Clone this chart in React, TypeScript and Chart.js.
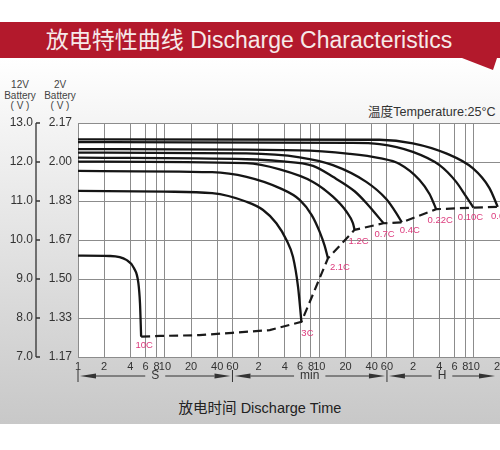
import React, { useEffect, useRef } from "react";
import { Chart, registerables } from "chart.js";

Chart.register(...registerables);

// ---------- data (time in seconds, voltage on the 12 V scale) ----------
const rateLabels = ["0.05C", "0.10C", "0.22C", "0.4C", "0.7C", "1.2C", "2.1C", "3C", "10C"];

const t005 = [1, 2958, 7145, 17290, 34960, 54450, 67780];
const v005 = [12.58, 12.57, 12.48, 12.22, 11.84, 11.33, 10.85];

const t010 = [1, 1337, 2958, 7145, 14490, 22540, 29380, 35600];
const v010 = [12.51, 12.49, 12.46, 12.26, 11.92, 11.49, 11.11, 10.83];

const t022 = [1, 356, 1337, 2958, 5024, 8532, 11120, 13270];
const v022 = [12.33, 12.3, 12.21, 12.1, 11.95, 11.54, 11.18, 10.79];

const t04 = [1, 87, 356, 859, 2081, 3532, 4605, 5340];
const v04 = [12.24, 12.22, 12.12, 11.92, 11.49, 11.05, 10.69, 10.45];

const t07 = [1, 87, 210, 507, 859, 1527, 2081, 2662, 3290];
const v07 = [12.11, 12.07, 12.02, 11.9, 11.62, 11.25, 10.95, 10.67, 10.43];

const t12 = [1, 87, 210, 507, 859, 1227, 1460, 1527];
const v12 = [12.01, 11.97, 11.81, 11.49, 11.11, 10.73, 10.43, 10.26];

const t21 = [1, 35, 87, 210, 356, 490, 605, 691, 753];
const v21 = [11.77, 11.74, 11.62, 11.33, 11.03, 10.64, 10.21, 9.85, 9.53];

const t3 = [1, 10, 35, 87, 135, 192, 251, 298, 341, 373];
const v3 = [11.26, 11.24, 11.2, 10.98, 10.77, 10.43, 10.0, 9.57, 8.8, 7.9];

const t10 = [1, 2.3, 3.6, 4.4, 4.95, 5.17, 5.33];
const v10 = [9.6, 9.59, 9.49, 9.28, 8.9, 8.38, 7.52];

// end-of-discharge (dashed) line
const endT = [5.33, 8.8, 25, 60, 161, 373, 753, 1527, 3290, 5340, 13270, 35600, 67780, 72000];
const endV = [7.52, 7.54, 7.56, 7.62, 7.69, 7.9, 9.53, 10.26, 10.43, 10.45, 10.79, 10.83, 10.85, 10.85];

// axes
const xTickValues = [1, 2, 4, 6, 8, 10, 20, 40, 60, 120, 240, 360, 480, 600, 1200, 2400, 3600, 7200, 14400, 21600, 28800, 36000, 72000];
const xTickLabels = ["1", "2", "4", "6", "8", "10", "20", "40", "60", "2", "4", "6", "8", "10", "20", "40", "60", "2", "4", "6", "8", "10", "20"];
const y12Ticks = [7, 8, 9, 10, 11, 12, 13];
const y12TickLabels = ["7.0", "8.0", "9.0", "10.0", "11.0", "12.0", "13.0"];
const y2TickLabels = ["1.17", "1.33", "1.50", "1.67", "1.83", "2.00", "2.17"];
const unitBounds = [1, 60, 3600, 72000];
const unitNames = ["S", "min", "H"];

const curveT = [t005, t010, t022, t04, t07, t12, t21, t3, t10];
const curveV = [v005, v010, v022, v04, v07, v12, v21, v3, v10];

// label placement relative to each curve's end point (pixels)
const labelOffsets = [
  [6, 10], [-3, 10], [4, 11], [8, 8], [1, 11], [4, 12], [12, 9], [6, 11], [3, 9],
];

const FONT = '"Liberation Sans", "Noto Sans CJK SC", Arial, sans-serif';

const toPts = (ts: number[], vs: number[]) => ts.map((t, i) => ({ x: t, y: vs[i] }));

const bgPlugin = {
  id: "plotBg",
  beforeDraw(chart: any) {
    const { ctx, chartArea } = chart;
    ctx.save();
    ctx.fillStyle = "#ffffff";
    ctx.fillRect(chartArea.left, chartArea.top, chartArea.right - chartArea.left, chartArea.bottom - chartArea.top);
    ctx.restore();
  },
};

const bracketPlugin = {
  id: "bracket",
  afterDraw(chart: any) {
    const s = chart.scales.y;
    const { ctx } = chart;
    const x = s.right - 4;
    ctx.save();
    ctx.strokeStyle = "#333";
    ctx.lineWidth = 1.3;
    ctx.beginPath();
    ctx.moveTo(x, s.getPixelForValue(13));
    ctx.lineTo(x, s.getPixelForValue(7));
    y12Ticks.forEach((v) => {
      const py = s.getPixelForValue(v);
      ctx.moveTo(x, py);
      ctx.lineTo(x + 4, py);
    });
    ctx.stroke();
    ctx.restore();
  },
};

const rateLabelPlugin = {
  id: "rateLabels",
  afterDatasetsDraw(chart: any) {
    const xs = chart.scales.x;
    const ys = chart.scales.y;
    const { ctx } = chart;
    ctx.save();
    ctx.font = `9.5px ${FONT}`;
    ctx.fillStyle = "#dc3a7c";
    ctx.textAlign = "center";
    ctx.textBaseline = "middle";
    rateLabels.forEach((lab, i) => {
      const ts = curveT[i];
      const vs = curveV[i];
      const px = xs.getPixelForValue(ts[ts.length - 1]);
      const py = ys.getPixelForValue(vs[vs.length - 1]);
      ctx.fillText(lab, px + labelOffsets[i][0], py + labelOffsets[i][1]);
    });
    ctx.restore();
  },
};

const unitPlugin = {
  id: "units",
  afterDraw(chart: any) {
    const xs = chart.scales.x;
    const { ctx } = chart;
    const y = chart.chartArea.bottom + 19;
    ctx.save();
    ctx.strokeStyle = "#333";
    ctx.fillStyle = "#333";
    ctx.lineWidth = 1;
    ctx.font = `12px ${FONT}`;
    ctx.textAlign = "center";
    ctx.textBaseline = "middle";
    for (let i = 0; i < unitNames.length; i++) {
      const a = xs.getPixelForValue(unitBounds[i]);
      const b = Math.min(xs.getPixelForValue(unitBounds[i + 1]), chart.width - 3);
      ctx.beginPath();
      ctx.moveTo(a, y - 6);
      ctx.lineTo(a, y + 6);
      ctx.stroke();
      ctx.beginPath();
      ctx.moveTo(a + 2, y);
      ctx.lineTo(a + 18, y - 2.4);
      ctx.lineTo(a + 18, y + 2.4);
      ctx.closePath();
      ctx.fill();
      ctx.beginPath();
      ctx.moveTo(b - 2, y);
      ctx.lineTo(b - 18, y - 2.4);
      ctx.lineTo(b - 18, y + 2.4);
      ctx.closePath();
      ctx.fill();
      const c = (a + b) / 2;
      const w = ctx.measureText(unitNames[i]).width;
      ctx.beginPath();
      ctx.moveTo(a + 18, y);
      ctx.lineTo(c - w / 2 - 6, y);
      ctx.moveTo(c + w / 2 + 6, y);
      ctx.lineTo(b - 18, y);
      ctx.stroke();
      ctx.fillText(unitNames[i], c, y);
    }
    ctx.restore();
  },
};

export default function App() {
  const ref = useRef<HTMLCanvasElement>(null);

  useEffect(() => {
    const canvas = ref.current;
    if (!canvas) return;
    Chart.defaults.font.family = FONT;

    const curveSets = curveT.map((ts, i) => ({
      label: rateLabels[i],
      data: toPts(ts, curveV[i]),
      borderColor: "#151515",
      borderWidth: 2.3,
      pointRadius: 0,
      cubicInterpolationMode: "monotone" as const,
      fill: false,
      xAxisID: "x",
      yAxisID: "y",
    }));

    const chart = new Chart(canvas, {
      type: "line",
      data: {
        datasets: [
          ...curveSets,
          {
            label: "end",
            data: toPts(endT, endV),
            borderColor: "#1a1a1a",
            borderWidth: 2.2,
            borderDash: [9, 5],
            pointRadius: 0,
            tension: 0,
            fill: false,
            xAxisID: "x",
            yAxisID: "y",
          },
        ],
      },
      options: {
        responsive: false,
        animation: false,
        layout: { padding: { top: 123, left: 0, right: 0, bottom: 65 } },
        plugins: { legend: { display: false }, tooltip: { enabled: false } },
        scales: {
          x: {
            type: "logarithmic",
            position: "bottom",
            min: 1,
            max: 72000,
            afterBuildTicks: (s: any) => {
              s.ticks = xTickValues.map((v) => ({ value: v }));
            },
            afterFit: (s: any) => {
              s.height = 28;
              s.paddingLeft = 0;
              s.paddingRight = 0;
            },
            ticks: {
              autoSkip: false,
              maxRotation: 0,
              minRotation: 0,
              padding: 3,
              color: "#333",
              font: { size: 11 },
              callback: (_v: any, i: number) => xTickLabels[i],
            },
            grid: { color: "#8c8c8c", lineWidth: 1, drawTicks: false },
            border: { display: false },
          },
          y: {
            type: "linear",
            position: "left",
            weight: 1,
            min: 7,
            max: 13,
            afterBuildTicks: (s: any) => {
              s.ticks = y12Ticks.map((v) => ({ value: v }));
            },
            afterFit: (s: any) => {
              s.width = 40;
            },
            ticks: {
              padding: 7,
              color: "#333",
              font: { size: 12 },
              callback: (_v: any, i: number) => y12TickLabels[i],
            },
            grid: { color: "#8c8c8c", lineWidth: 1, drawTicks: false },
            border: { display: false },
          },
          y2: {
            type: "linear",
            position: "left",
            weight: 0,
            min: 7,
            max: 13,
            afterBuildTicks: (s: any) => {
              s.ticks = y12Ticks.map((v) => ({ value: v }));
            },
            afterFit: (s: any) => {
              s.width = 38;
            },
            ticks: {
              padding: 6,
              color: "#333",
              font: { size: 12 },
              callback: (_v: any, i: number) => y2TickLabels[i],
            },
            grid: { display: false, drawTicks: false },
            border: { display: false },
          },
        },
      } as any,
      plugins: [bgPlugin, bracketPlugin, rateLabelPlugin, unitPlugin],
    });
    return () => chart.destroy();
  }, []);

  const hdr: React.CSSProperties = {
    position: "absolute",
    width: 40,
    textAlign: "center",
    fontSize: 10,
    lineHeight: "10.5px",
    color: "#444",
    top: 80,
  };

  return (
    <div
      style={{
        position: "fixed",
        left: 0,
        top: 0,
        width: 500,
        height: 450,
        overflow: "hidden",
        background: "#ffffff",
        fontFamily: FONT,
      }}
    >
      <div
        style={{
          position: "absolute",
          left: 0,
          top: 58,
          width: 500,
          height: 366,
          background: "linear-gradient(to bottom, #ffffff 0%, #f3f3f3 20%, #c8c8c8 100%)",
        }}
      />
      <svg width={500} height={80} style={{ position: "absolute", left: 0, top: 0 }}>
        <polygon points="0,22 500,22 500,58 497,58 493,70 462,58 0,58" fill="#b3192c" />
      </svg>
      <div
        style={{
          position: "absolute",
          left: 0,
          top: 22,
          width: 498,
          height: 36,
          lineHeight: "36px",
          textAlign: "center",
          color: "#f6e9e9",
          fontSize: 23,
          whiteSpace: "nowrap",
        }}
      >
        放电特性曲线 Discharge Characteristics
      </div>
      <div style={{ ...hdr, left: 0 }}>
        12V
        <br />
        Battery
        <br />( V )
      </div>
      <div style={{ ...hdr, left: 40 }}>
        2V
        <br />
        Battery
        <br />( V )
      </div>
      <div
        style={{
          position: "absolute",
          left: 368,
          top: 104,
          fontSize: 12.6,
          lineHeight: "16px",
          color: "#333",
          whiteSpace: "nowrap",
        }}
      >
        温度Temperature:25°C
      </div>
      <div
        style={{
          position: "absolute",
          left: 160,
          width: 200,
          top: 399,
          fontSize: 14.5,
          lineHeight: "18px",
          textAlign: "center",
          color: "#222",
          whiteSpace: "nowrap",
        }}
      >
        放电时间 Discharge Time
      </div>
      <canvas ref={ref} width={500} height={450} style={{ position: "absolute", left: 0, top: 0 }} />
    </div>
  );
}
